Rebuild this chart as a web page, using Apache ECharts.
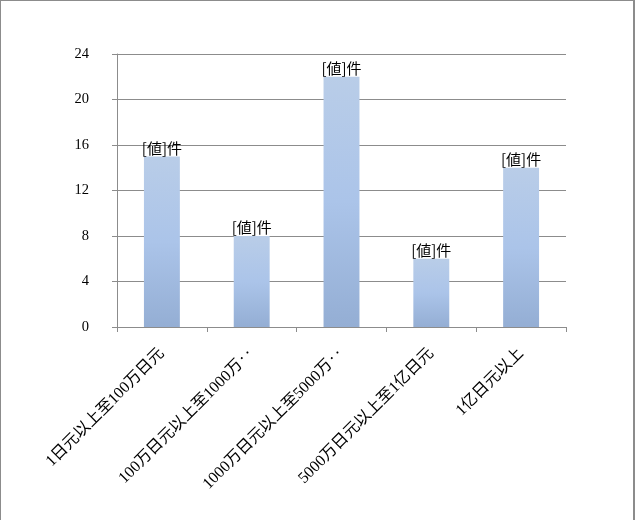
<!DOCTYPE html>
<html><head><meta charset="utf-8">
<script src="https://cdn.jsdelivr.net/npm/echarts@6/dist/echarts.min.js"></script>
<style>
html,body{margin:0;padding:0;background:#fff;}
#c{width:635px;height:520px;box-sizing:border-box;border-top:1px solid #8c8c8c;border-left:1px solid #8c8c8c;border-right:2px solid #8c8c8c;}
</style></head><body>
<div id="c"></div>
<script>
const categories = ['1日元以上至100万日元','100万日元以上至1000万‥','1000万日元以上至5000万‥','5000万日元以上至1亿日元','1亿日元以上'];
const values = [15, 8, 22, 6, 14];
const yTicks = {min: 0, max: 24, interval: 4};
const labelText = '[値]件';

const chart = echarts.init(document.getElementById('c'), null, {renderer: 'canvas'});
const serifFont = '"Liberation Serif", "Noto Sans CJK JP", serif';
chart.setOption({
  animation: false,
  grid: {left: 116, right: 67, top: 53, bottom: 193, containLabel: false},
  xAxis: {
    type: 'category',
    data: categories,
    axisLine: {show: true, lineStyle: {color: '#8c8c8c', width: 1}},
    axisTick: {show: true, alignWithLabel: false, length: 5, lineStyle: {color: '#8c8c8c'}},
    axisLabel: {rotate: 45, interval: 0, margin: 24, color: '#000', fontSize: 16, fontFamily: serifFont}
  },
  yAxis: {
    type: 'value',
    min: yTicks.min, max: yTicks.max, interval: yTicks.interval,
    axisLine: {show: true, lineStyle: {color: '#8c8c8c', width: 1}},
    axisTick: {show: true, length: 5, lineStyle: {color: '#8c8c8c'}},
    axisLabel: {margin: 28, color: '#000', fontSize: 14.5, fontFamily: serifFont},
    splitLine: {show: true, lineStyle: {color: '#8c8c8c', width: 1}}
  },
  series: [{
    type: 'bar',
    data: values,
    barWidth: '40%',
    itemStyle: {
      color: new echarts.graphic.LinearGradient(0, 0, 0, 1, [
        {offset: 0, color: '#b9cde8'},
        {offset: 0.5, color: '#abc4e9'},
        {offset: 1, color: '#94aed4'}
      ])
    },
    label: {
      show: true, position: 'top', distance: 1,
      formatter: () => labelText,
      color: '#000', fontSize: 15, fontFamily: '"Noto Sans CJK JP", sans-serif'
    }
  }]
});
</script>
</body></html>
